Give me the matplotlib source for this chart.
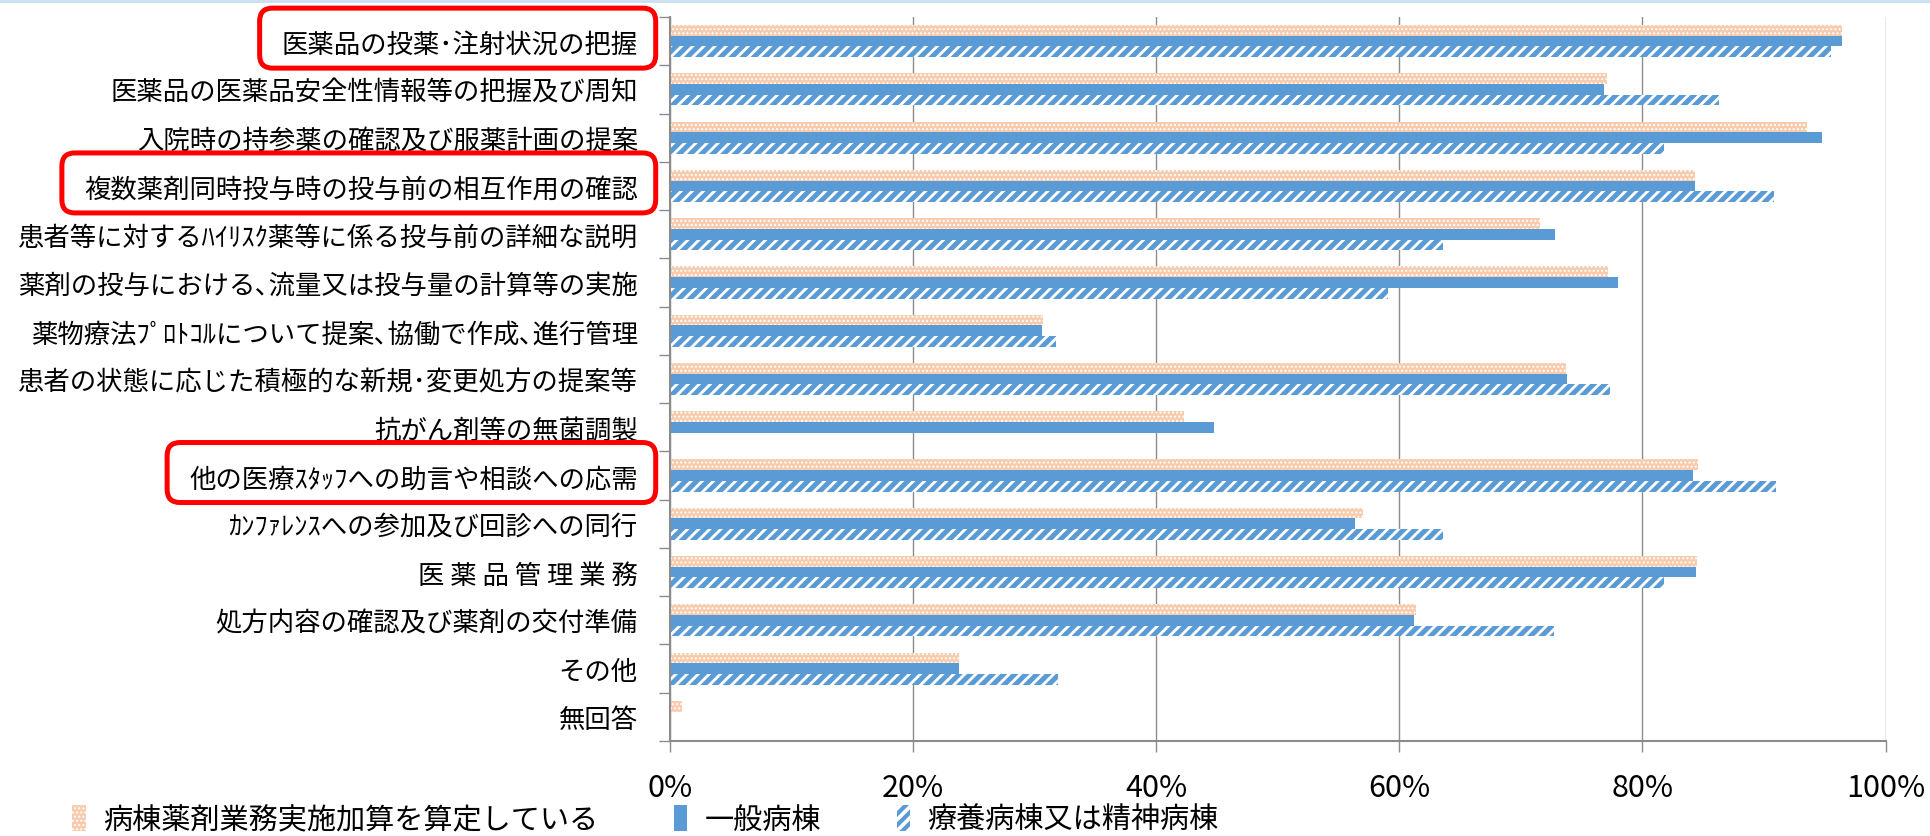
import matplotlib
matplotlib.use('Agg')
import matplotlib.pyplot as plt
from matplotlib.patches import FancyBboxPatch, Patch
from matplotlib.ticker import PercentFormatter
from matplotlib.transforms import IdentityTransform
import numpy as np

plt.rcParams['font.family'] = ['Noto Sans CJK JP', 'DejaVu Sans']

# 業務内容
categories = [
    '医薬品の投薬･注射状況の把握',
    '医薬品の医薬品安全性情報等の把握及び周知',
    '入院時の持参薬の確認及び服薬計画の提案',
    '複数薬剤同時投与時の投与前の相互作用の確認',
    '患者等に対するﾊｲﾘｽｸ薬等に係る投与前の詳細な説明',
    '薬剤の投与における､流量又は投与量の計算等の実施',
    '薬物療法ﾌﾟﾛﾄｺﾙについて提案､協働で作成､進行管理',
    '患者の状態に応じた積極的な新規･変更処方の提案等',
    '抗がん剤等の無菌調製',
    '他の医療ｽﾀｯﾌへの助言や相談への応需',
    'ｶﾝﾌｧﾚﾝｽへの参加及び回診への同行',
    '医 薬 品 管 理 業 務',
    '処方内容の確認及び薬剤の交付準備',
    'その他',
    '無回答',
]
series_names = ['病棟薬剤業務実施加算を算定している', '一般病棟', '療養病棟又は精神病棟']

# 割合(%)
santei = [96.4, 77.1, 93.5, 84.3, 71.6, 77.2, 30.7, 73.7, 42.3, 84.6, 57.0, 84.5, 61.4, 23.8, 1.0]
ippan = [96.4, 76.8, 94.8, 84.3, 72.8, 78.0, 30.6, 73.8, 44.8, 84.2, 56.4, 84.4, 61.2, 23.8, 0.0]
ryoyo = [95.5, 86.3, 81.8, 90.8, 63.6, 59.1, 31.8, 77.3, 0.0, 91.0, 63.6, 81.8, 72.7, 31.9, 0.0]

highlight = [0, 3, 9]  # 赤枠で囲む項目

peach = '#F8CBAD'
blue = '#5B9BD5'
gray = '#8C8C8C'

fig = plt.figure(figsize=(19.3, 8.37), dpi=100)
ax = fig.add_axes([0.347, 0.1135, 0.630, 0.865])

y = np.arange(len(categories))
h = 0.222

b1 = ax.barh(y - h, santei, height=h, color=peach, edgecolor='white', hatch='....', linewidth=0)
b2 = ax.barh(y, ippan, height=h, color=blue, linewidth=0)
b3 = ax.barh(y + h, ryoyo, height=h, color='white', edgecolor=blue, hatch='///', linewidth=0)
for bar in b3:
    bar.set_hatch_linewidth(3.6)

ax.set_xlim(0, 100)
ax.set_ylim(len(categories) - 0.5, -0.5)
ax.xaxis.set_major_formatter(PercentFormatter(decimals=0))
ax.set_xticks(np.arange(0, 101, 20))
ax.grid(axis='x', color=gray, linewidth=1.0)
ax.set_axisbelow(True)

ax.set_yticks(y)
ax.set_yticklabels(categories, fontsize=19)
ax.set_yticks(np.arange(len(categories) + 1) - 0.5, minor=True)
ax.tick_params(axis='y', which='major', length=0, pad=23)
ax.tick_params(axis='y', which='minor', length=8, width=1, color=gray, direction='out')
ax.tick_params(axis='x', length=8, width=1, color=gray, direction='out', labelsize=22, pad=14)

for s in ['top', 'right']:
    ax.spines[s].set_visible(False)
for s in ['left', 'bottom']:
    ax.spines[s].set_color(gray)
    ax.spines[s].set_linewidth(1.5)

handles = [
    Patch(facecolor=peach, edgecolor='white', hatch='....', linewidth=0),
    Patch(facecolor=blue, linewidth=0),
    Patch(facecolor='white', edgecolor=blue, hatch='///', linewidth=0),
]
leg = fig.legend(handles, series_names, loc='center left', bbox_to_anchor=(0.030, 0.019),
                 ncol=3, frameon=False, fontsize=21, handlelength=0.45, handleheight=1.0,
                 handletextpad=0.6, columnspacing=2.6, borderpad=0)
leg.get_patches()[2].set_hatch_linewidth(3.0)

# 上端の細い線
fig.add_artist(plt.Line2D([0, 1], [0.998, 0.998], color='#C9DFF2', linewidth=2,
                          transform=fig.transFigure))

# 赤枠
fig.canvas.draw()
renderer = fig.canvas.get_renderer()
labels = ax.get_yticklabels()
ax_left = ax.get_window_extent(renderer).x0
for i in highlight:
    bb = labels[i].get_window_extent(renderer)
    yc = ax.transData.transform((0, i))[1]
    x0 = bb.x0 - 22
    x1 = ax_left - 14
    box = FancyBboxPatch((x0, yc - 27), x1 - x0, 60,
                         boxstyle='round,pad=0,rounding_size=13',
                         facecolor='none', edgecolor='#FF0000', linewidth=3.6,
                         transform=IdentityTransform())
    fig.add_artist(box)

fig.savefig('out.png', dpi=100, facecolor='white')
